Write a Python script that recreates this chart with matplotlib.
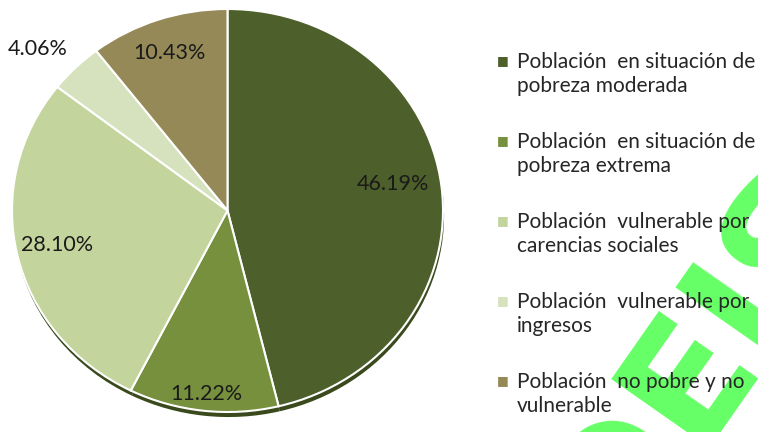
import matplotlib.pyplot as plt

# data
categorias = [
    "Población  en situación de\npobreza moderada",
    "Población  en situación de\npobreza extrema",
    "Población  vulnerable por\ncarencias sociales",
    "Población  vulnerable por\ningresos",
    "Población  no pobre y no\nvulnerable",
]
porcentajes = [46.19, 11.22, 28.10, 4.06, 10.43]
colores = ["#4d5f2a", "#76903d", "#c3d49d", "#d6e2bd", "#948957"]
etiquetas = ["46.19%", "11.22%", "28.10%", "4.06%", "10.43%"]

plt.rcParams['font.family'] = ['Lato', 'DejaVu Sans']

fig = plt.figure(figsize=(7.58, 4.32), dpi=100)

# green watermark in the lower right corner (behind everything)
fig.text(702 / 758, 1 - 358 / 432, "DEIS", fontsize=118, fontweight="heavy",
         family="DejaVu Sans", color="#66ff66", rotation=55,
         ha="center", va="center", zorder=0)

# pie axes (pie slightly flattened like the original 3D look)
ax = fig.add_axes([12 / 758, 1 - 412 / 432, 431 / 758, 403 / 432])

# shadow under the pie
ax.pie(porcentajes, colors=["#3a4a1c"] * 5, startangle=90, counterclock=False,
       radius=1.0, center=(0.005, -0.025), wedgeprops=dict(linewidth=0))

wedges, _ = ax.pie(porcentajes, colors=colores, startangle=90, counterclock=False,
                   radius=1.0, wedgeprops=dict(edgecolor="white", linewidth=1.5))
ax.set_xlim(-1, 1)
ax.set_ylim(-1, 1)
ax.set_aspect('auto')
ax.axis('off')

# data labels
pos_etiquetas = [(0.77, 0.13), (-0.1, -0.91), (-0.79, -0.17), (-0.88, 0.8), (-0.27, 0.78)]
for texto, (x, y) in zip(etiquetas, pos_etiquetas):
    ax.text(x, y, texto, ha="center", va="center", fontsize=15.5, color="#1a1a1a")

# legend drawn by hand (wraps and clips at the right edge like the original)
y0 = 1 - 74 / 432
paso = 80 / 432
for i, (cat, col) in enumerate(zip(categorias, colores)):
    y = y0 - i * paso
    fig.text(503 / 758, y + 14 / 432, "■", color=col, fontsize=9, ha="center",
             va="center", zorder=5)
    fig.text(517 / 758, y, cat, fontsize=15, color="#262626", ha="left",
             va="center", linespacing=1.3, zorder=5)

fig.savefig("out.png", dpi=100)
